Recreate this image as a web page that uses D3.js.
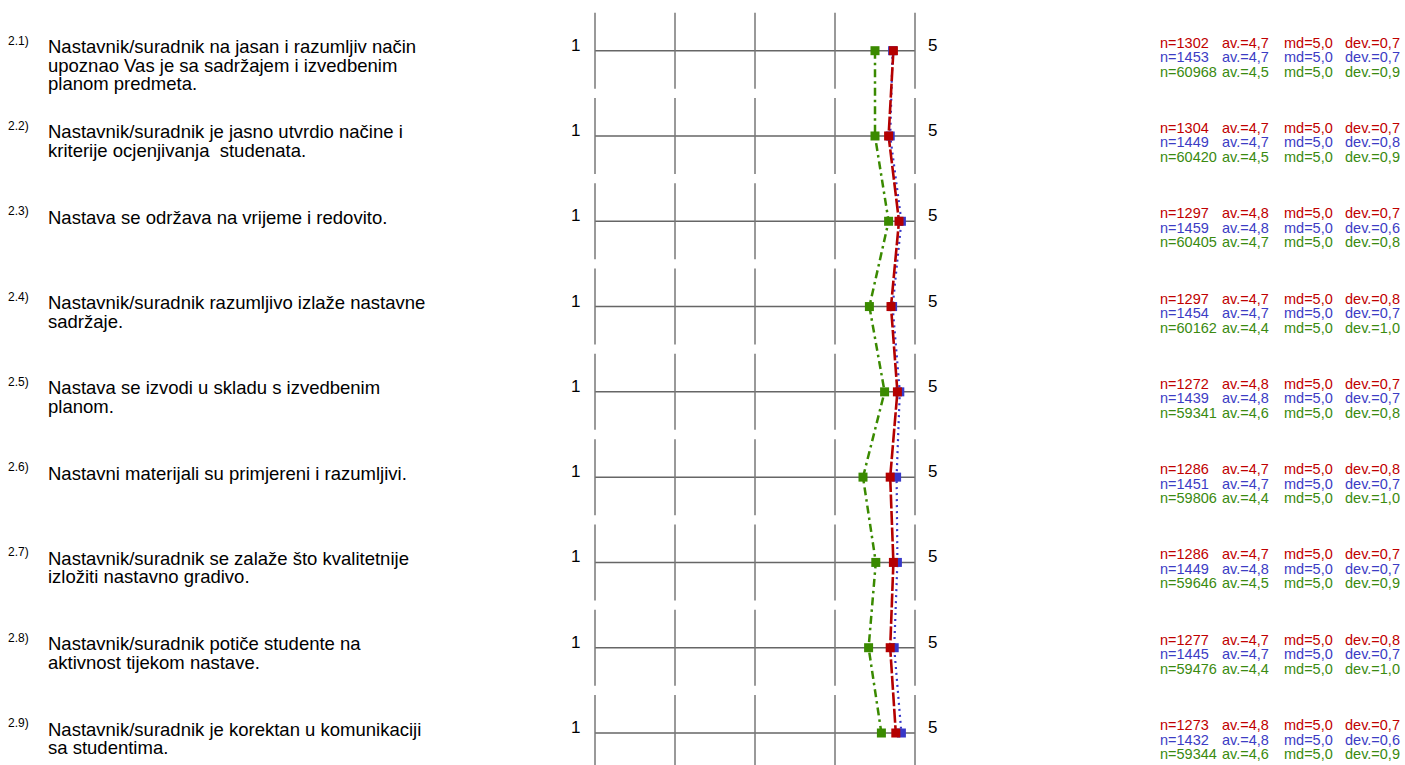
<!DOCTYPE html>
<html>
<head>
<meta charset="utf-8">
<script src="https://cdn.jsdelivr.net/npm/d3@7"></script>
<style>
  body { margin: 0; background: #fff; }
  text { font-family: "Liberation Sans", Arial, sans-serif; white-space: pre; }
</style>
</head>
<body>
<div id="chart"></div>
<script>
var width = 1405;
var height = 765;

// question numbers and texts (line breaks as in the original)
var labels = ["2.1)", "2.2)", "2.3)", "2.4)", "2.5)", "2.6)", "2.7)", "2.8)", "2.9)"];
var questions = [
  ["Nastavnik/suradnik na jasan i razumljiv način", "upoznao Vas je sa sadržajem i izvedbenim", "planom predmeta."],
  ["Nastavnik/suradnik je jasno utvrdio načine i", "kriterije ocjenjivanja  studenata."],
  ["Nastava se održava na vrijeme i redovito."],
  ["Nastavnik/suradnik razumljivo izlaže nastavne", "sadržaje."],
  ["Nastava se izvodi u skladu s izvedbenim", "planom."],
  ["Nastavni materijali su primjereni i razumljivi."],
  ["Nastavnik/suradnik se zalaže što kvalitetnije", "izložiti nastavno gradivo."],
  ["Nastavnik/suradnik potiče studente na", "aktivnost tijekom nastave."],
  ["Nastavnik/suradnik je korektan u komunikaciji", "sa studentima."]
];

// plotted means
var redVals   = [4.73, 4.67, 4.80, 4.70, 4.78, 4.69, 4.73, 4.69, 4.76];
var blueVals  = [4.72, 4.69, 4.83, 4.72, 4.81, 4.77, 4.78, 4.74, 4.83];
var greenVals = [4.50, 4.50, 4.67, 4.43, 4.62, 4.35, 4.51, 4.42, 4.58];

// printed statistics
var redN   = ["1302", "1304", "1297", "1297", "1272", "1286", "1286", "1277", "1273"];
var redAv  = ["4,7", "4,7", "4,8", "4,7", "4,8", "4,7", "4,7", "4,7", "4,8"];
var redMd  = ["5,0", "5,0", "5,0", "5,0", "5,0", "5,0", "5,0", "5,0", "5,0"];
var redDev = ["0,7", "0,7", "0,7", "0,8", "0,7", "0,8", "0,7", "0,8", "0,7"];

var blueN   = ["1453", "1449", "1459", "1454", "1439", "1451", "1449", "1445", "1432"];
var blueAv  = ["4,7", "4,7", "4,8", "4,7", "4,8", "4,7", "4,8", "4,7", "4,8"];
var blueMd  = ["5,0", "5,0", "5,0", "5,0", "5,0", "5,0", "5,0", "5,0", "5,0"];
var blueDev = ["0,7", "0,8", "0,6", "0,7", "0,7", "0,7", "0,7", "0,7", "0,6"];

var greenN   = ["60968", "60420", "60405", "60162", "59341", "59806", "59646", "59476", "59344"];
var greenAv  = ["4,5", "4,5", "4,7", "4,4", "4,6", "4,4", "4,5", "4,4", "4,6"];
var greenMd  = ["5,0", "5,0", "5,0", "5,0", "5,0", "5,0", "5,0", "5,0", "5,0"];
var greenDev = ["0,9", "0,9", "0,8", "1,0", "0,8", "1,0", "0,9", "1,0", "0,9"];

var ticks = [1, 2, 3, 4, 5];

var svg = d3.select("#chart").append("svg")
  .attr("width", width)
  .attr("height", height)

var x = d3.scaleLinear().domain([1, 5]).range([595, 915])
var y = d3.scaleLinear().domain([0, 8]).range([50.7, 733])

var rows = d3.range(labels.length)

// grid per question
var grid = svg.append("g")
rows.forEach(function(i) {
  var g = grid.append("g").attr("transform", "translate(0," + y(i) + ")")
  g.append("line")
    .attr("x1", x(1)).attr("x2", x(5))
    .attr("y1", 0).attr("y2", 0)
    .attr("stroke", "#666").attr("stroke-width", 1.5)
  g.selectAll("line.v").data(ticks).enter().append("line")
    .attr("class", "v")
    .attr("x1", function(d) { return x(d) }).attr("x2", function(d) { return x(d) })
    .attr("y1", -38).attr("y2", 38)
    .attr("stroke", "#777").attr("stroke-width", 1.5)
  g.append("text").attr("x", 571).attr("y", 0).attr("font-size", "17px").text("1")
  g.append("text").attr("x", 928).attr("y", 0).attr("font-size", "17px").text("5")
})

// question labels
rows.forEach(function(i) {
  var top = y(i) - 4
  svg.append("text")
    .attr("x", 8).attr("y", top - 2)
    .attr("font-size", "12px")
    .text(labels[i])
  svg.append("text")
    .attr("x", 48).attr("y", top + 6.5)
    .attr("font-size", "18.5px")
    .attr("fill", "#000")
    .selectAll("tspan").data(questions[i]).enter().append("tspan")
    .attr("x", 48)
    .attr("dy", function(d, j) { return j == 0 ? 0 : 18.5 })
    .text(function(d) { return d })
})

// profile lines
var series = [
  { vals: greenVals, color: "#3a8a00", dash: "8,4,2.5,4", w: 2.5 },
  { vals: blueVals,  color: "#3838c8", dash: "2,4", w: 2.2 },
  { vals: redVals,   color: "#b40000", dash: "14,2.5", w: 2.6 }
]

var line = d3.line()
  .x(function(d) { return x(d) })
  .y(function(d, i) { return y(i) })

series.forEach(function(s) {
  svg.append("path")
    .attr("d", line(s.vals))
    .attr("fill", "none")
    .attr("stroke", s.color)
    .attr("stroke-width", s.w)
    .attr("stroke-dasharray", s.dash)
})
series.forEach(function(s) {
  svg.selectAll(null).data(s.vals).enter().append("rect")
    .attr("x", function(d) { return x(d) - 4.5 })
    .attr("y", function(d, i) { return y(i) - 4.5 })
    .attr("width", 9).attr("height", 9)
    .attr("fill", s.color)
})

// statistics
var stats = [
  { n: redN, av: redAv, md: redMd, dev: redDev, color: "#c00000", dy: -8 },
  { n: blueN, av: blueAv, md: blueMd, dev: blueDev, color: "#3c3cc4", dy: 6.5 },
  { n: greenN, av: greenAv, md: greenMd, dev: greenDev, color: "#3a8a10", dy: 21 }
]
rows.forEach(function(i) {
  stats.forEach(function(s) {
    var g = svg.append("g")
      .attr("transform", "translate(0," + (y(i) + s.dy + 5) + ")")
      .attr("fill", s.color)
      .attr("font-size", "14.5px")
    g.append("text").attr("x", 1160).text("n=" + s.n[i])
    g.append("text").attr("x", 1222).text("av.=" + s.av[i])
    g.append("text").attr("x", 1284).text("md=" + s.md[i])
    g.append("text").attr("x", 1345).text("dev.=" + s.dev[i])
  })
})
</script>
</body>
</html>
